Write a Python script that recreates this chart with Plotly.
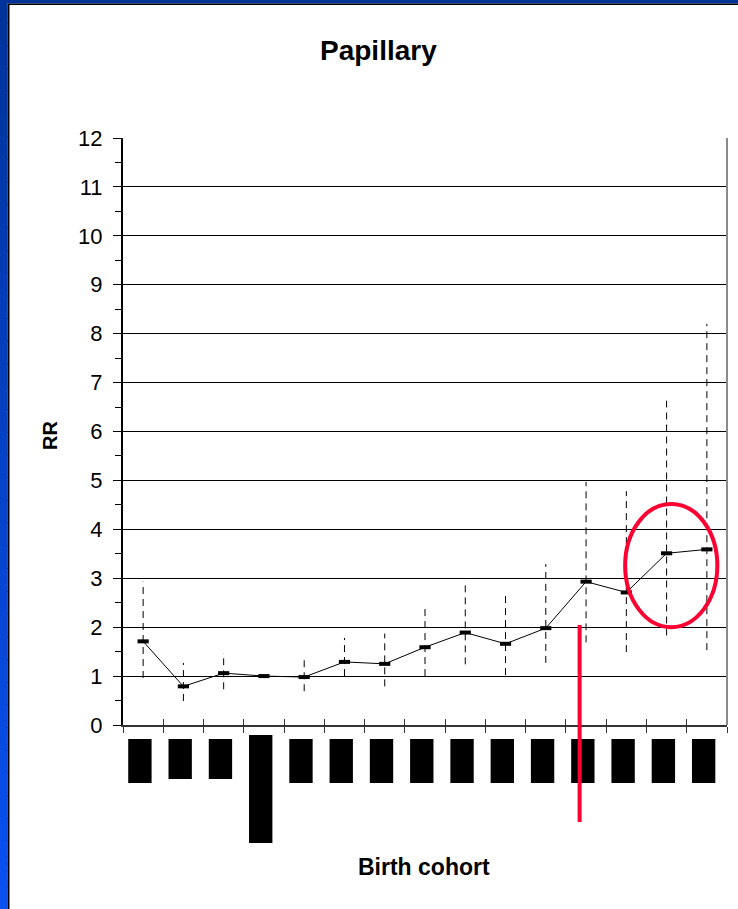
import plotly.graph_objects as go

# ---------------- data ----------------
cohort_index = list(range(1, 16))          # 15 birth cohorts (labels redacted in source)
rr_values = [1.71, 0.79, 1.06, 1.00, 0.98, 1.29, 1.25, 1.59, 1.89, 1.66, 1.98, 2.93, 2.71, 3.51, 3.59]
ci_low    = [0.96, 0.49, 0.73, None, 0.69, 1.00, 0.79, 1.00, 1.24, 1.02, 1.27, 1.69, 1.49, 1.83, 1.53]
ci_high   = [2.93, 1.27, 1.47, None, 1.36, 1.78, 1.87, 2.41, 2.96, 2.73, 3.29, 4.97, 4.78, 6.63, 8.20]
y_ticks = list(range(0, 13))

FIG_W, FIG_H = 738, 909
L, R, T, B = 123, 11, 138, 184
PW, PH = FIG_W - L - R, FIG_H - T - B


def px(xp):
    return (xp - L) / PW


def py(yp):
    return (FIG_H - B - yp) / PH


xs = [i - 0.5 for i in cohort_index]

fig = go.Figure()

# dashed confidence intervals
ex, ey = [], []
for x, lo, hi in zip(xs, ci_low, ci_high):
    if lo is None:
        continue
    ex += [x, x, None]
    ey += [lo, hi, None]
fig.add_trace(go.Scatter(x=ex, y=ey, mode="lines",
                         line=dict(color="black", width=1, dash="7px,5px"),
                         hoverinfo="skip", showlegend=False))

# RR line with dash markers
fig.add_trace(go.Scatter(x=xs, y=rr_values, mode="lines+markers",
                         line=dict(color="black", width=1),
                         marker=dict(symbol="line-ew", size=8,
                                     line=dict(color="black", width=4)),
                         showlegend=False))

# invisible trace for the overlay axis (inside half of crossing ticks)
fig.add_trace(go.Scatter(x=[0], y=[0], xaxis="x2", mode="markers",
                         marker=dict(opacity=0), hoverinfo="skip", showlegend=False))

shapes = []
# blue frame: left gradient strip and top strip
n = 40
c0 = (0x00, 0x33, 0x99)
c1 = (0x0a, 0x50, 0xf2)
for i in range(n):
    t = i / (n - 1)
    col = "rgb(%d,%d,%d)" % tuple(round(a + (b - a) * t) for a, b in zip(c0, c1))
    y0 = FIG_H * i / n
    y1 = FIG_H * (i + 1) / n + 1
    shapes.append(dict(type="rect", xref="paper", yref="paper",
                       x0=px(0), x1=px(7.5), y0=py(y0), y1=py(y1),
                       fillcolor=col, line=dict(width=0), layer="above"))
shapes.append(dict(type="rect", xref="paper", yref="paper",
                   x0=px(0), x1=px(FIG_W), y0=py(0), y1=py(3.5),
                   fillcolor="rgb(0,51,153)", line=dict(width=0)))
shapes.append(dict(type="line", xref="paper", yref="paper",
                   x0=px(8.5), x1=px(8.5), y0=py(4), y1=py(FIG_H),
                   line=dict(color="black", width=2)))
shapes.append(dict(type="line", xref="paper", yref="paper",
                   x0=px(8), x1=px(FIG_W), y0=py(4.2), y1=py(4.2),
                   line=dict(color="black", width=1.5)))

# right plot border (grey)
shapes.append(dict(type="line", xref="paper", yref="paper",
                   x0=1, x1=1, y0=0, y1=1, line=dict(color="#8a8a8a", width=2)))

# redacted x tick labels (black boxes)
for i, x in enumerate(xs):
    top, bot = 739, 783
    if i in (1, 2):
        bot = 779
    if i == 3:
        top, bot = 735, 843
    shapes.append(dict(type="rect", xref="x", yref="paper",
                       x0=x - 0.37, x1=x + 0.21, y0=py(bot), y1=py(top),
                       fillcolor="black", line=dict(width=0)))

# red annotations
shapes.append(dict(type="line", xref="x", yref="paper",
                   x0=11.34, x1=11.34, y0=py(822), y1=py(625),
                   line=dict(color="#ff0033", width=4)))
shapes.append(dict(type="circle", xref="x", yref="y",
                   x0=12.47, x1=14.76, y0=2.0, y1=4.52,
                   line=dict(color="#ff0033", width=4)))

annotations = [
    dict(text="<b>Papillary</b>", xref="paper", yref="paper",
         x=px(378), y=py(50), xanchor="center", yanchor="middle",
         showarrow=False, font=dict(size=28, color="black")),
    dict(text="<b>RR</b>", xref="paper", yref="paper",
         x=px(50), y=py(436), xanchor="center", yanchor="middle", textangle=-90,
         showarrow=False, font=dict(size=20, color="black")),
    dict(text="<b>Birth cohort</b>", xref="paper", yref="paper",
         x=px(424), y=py(867), xanchor="center", yanchor="middle",
         showarrow=False, font=dict(size=23, color="black")),
]

fig.update_layout(
    width=FIG_W, height=FIG_H,
    margin=dict(l=L, r=R, t=T, b=B, autoexpand=False),
    paper_bgcolor="white", plot_bgcolor="white",
    font=dict(family="Liberation Sans, Arial, sans-serif", color="black"),
    showlegend=False,
    shapes=shapes, annotations=annotations,
    xaxis=dict(range=[0, 15], tickvals=list(range(0, 16)),
               ticktext=[""] * 16, ticks="outside", ticklen=6, tickwidth=1,
               tickcolor="#333", showgrid=False, zeroline=False,
               showline=True, linecolor="#333", linewidth=2, fixedrange=True),
    xaxis2=dict(range=[0, 15], overlaying="x", anchor="y", side="bottom",
                tickvals=list(range(0, 16)), ticktext=[""] * 16,
                ticks="inside", ticklen=6, tickwidth=1, tickcolor="#333",
                showgrid=False, zeroline=False, showline=False,
                showticklabels=False),
    yaxis=dict(range=[0, 12], tickvals=y_ticks, ticks="outside", ticklen=8,
               tickwidth=1, tickcolor="black", showgrid=True, gridcolor="black",
               gridwidth=1, zeroline=False, showline=True, linecolor="black",
               linewidth=2, tickfont=dict(size=22, color="black"),
               ticklabelstandoff=6,
               minor=dict(ticks="outside", ticklen=6, tickcolor="black",
                          dtick=0.5, tick0=0, showgrid=False)),
)

fig.write_html("out.html", config={"displayModeBar": False},
               post_script="document.body.style.margin='0px';")
